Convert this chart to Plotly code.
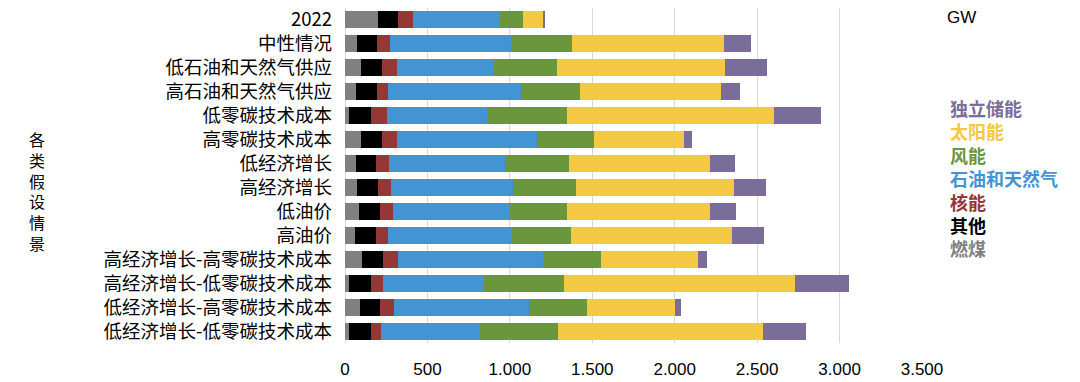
import plotly.graph_objects as go

categories = ["2022", "中性情况", "低石油和天然气供应", "高石油和天然气供应", "低零碳技术成本",
              "高零碳技术成本", "低经济增长", "高经济增长", "低油价", "高油价",
              "高经济增长-高零碳技术成本", "高经济增长-低零碳技术成本",
              "低经济增长-高零碳技术成本", "低经济增长-低零碳技术成本"]

coal    = [202, 73, 99, 65, 24, 97, 67, 75, 85, 61, 103, 24, 89, 24]
other   = [119, 123, 128, 127, 136, 125, 123, 127, 127, 127, 127, 134, 121, 136]
nuclear = [94, 77, 88, 71, 93, 91, 75, 79, 77, 73, 89, 75, 85, 60]
oilgas  = [523, 731, 582, 804, 610, 853, 705, 741, 707, 755, 883, 609, 822, 596]
wind    = [141, 374, 390, 360, 482, 343, 388, 378, 352, 356, 352, 488, 352, 475]
solar   = [125, 923, 1016, 854, 1259, 550, 854, 962, 864, 978, 588, 1400, 531, 1242]
storage = [4, 162, 259, 113, 283, 46, 154, 190, 158, 192, 54, 325, 41, 261]

series_names = ["燃煤", "其他", "核能", "石油和天然气", "风能", "太阳能", "独立储能"]
series_vals = [coal, other, nuclear, oilgas, wind, solar, storage]
series_colors = ["#808080", "#000000", "#953735", "#4394D2", "#6A963C", "#F5C843", "#7B6D99"]

x_tickvals = [0, 500, 1000, 1500, 2000, 2500, 3000, 3500]
x_ticktext = ["0", "500", "1.000", "1.500", "2.000", "2.500", "3.000", "3.500"]

y_title = "各类假设情景"

fig = go.Figure()
for name, vals, col in zip(series_names, series_vals, series_colors):
    fig.add_trace(go.Bar(y=categories, x=vals, name=name, orientation="h",
                         marker=dict(color=col, line=dict(width=0))))

# page body has an 8px default margin, so the figure is drawn 8px smaller
fig.update_layout(
    barmode="stack", bargap=0.29,
    width=1072, height=374,
    margin=dict(l=337, r=158, t=0, b=39, autoexpand=False),
    plot_bgcolor="white", paper_bgcolor="white",
    showlegend=False,
    font=dict(family="Noto Sans CJK SC", color="#000000"),
)
fig.update_xaxes(range=[0, 3500], tickvals=x_tickvals, ticktext=x_ticktext,
                 showgrid=True, gridcolor="#D9D9D9", gridwidth=1,
                 zeroline=True, zerolinecolor="#D9D9D9", zerolinewidth=1,
                 tickfont=dict(family="Liberation Sans", size=17, color="#000000"),
                 ticklabelstandoff=14)
fig.update_yaxes(autorange="reversed", categoryorder="array", categoryarray=categories,
                 tickfont=dict(family="Noto Sans CJK SC", size=18.5, color="#000000"),
                 ticklabelstandoff=12, showline=False)

# y-axis title (vertical stacked characters)
fig.add_annotation(text="<br>".join(y_title), xref="paper", yref="paper",
                   x=(37 - 345) / 577, y=(343 - 191) / 335, xanchor="center", yanchor="middle",
                   showarrow=False, font=dict(family="Noto Sans CJK SC", size=16, color="#000000"))

# unit label
fig.add_annotation(text="GW", xref="paper", yref="paper", x=(945 - 345) / 577,
                   y=(343 - 18) / 335, xanchor="left", yanchor="middle", showarrow=False,
                   font=dict(family="Liberation Sans", size=17, color="#000000"))

# custom legend as one multi-line annotation (top item = last stacked series)
legend_lines = ["<span style='color:%s'><b>%s</b></span>" % (col, name)
                for name, col in list(zip(series_names, series_colors))[::-1]]
fig.add_annotation(text="<br>".join(legend_lines), xref="paper", yref="paper",
                   x=(948 - 345) / 577, y=(343 - 177.5) / 335, xanchor="left", yanchor="middle",
                   align="left", showarrow=False,
                   font=dict(family="Noto Sans CJK SC", size=18, color="#000000"))

fig.write_html("out.html")
